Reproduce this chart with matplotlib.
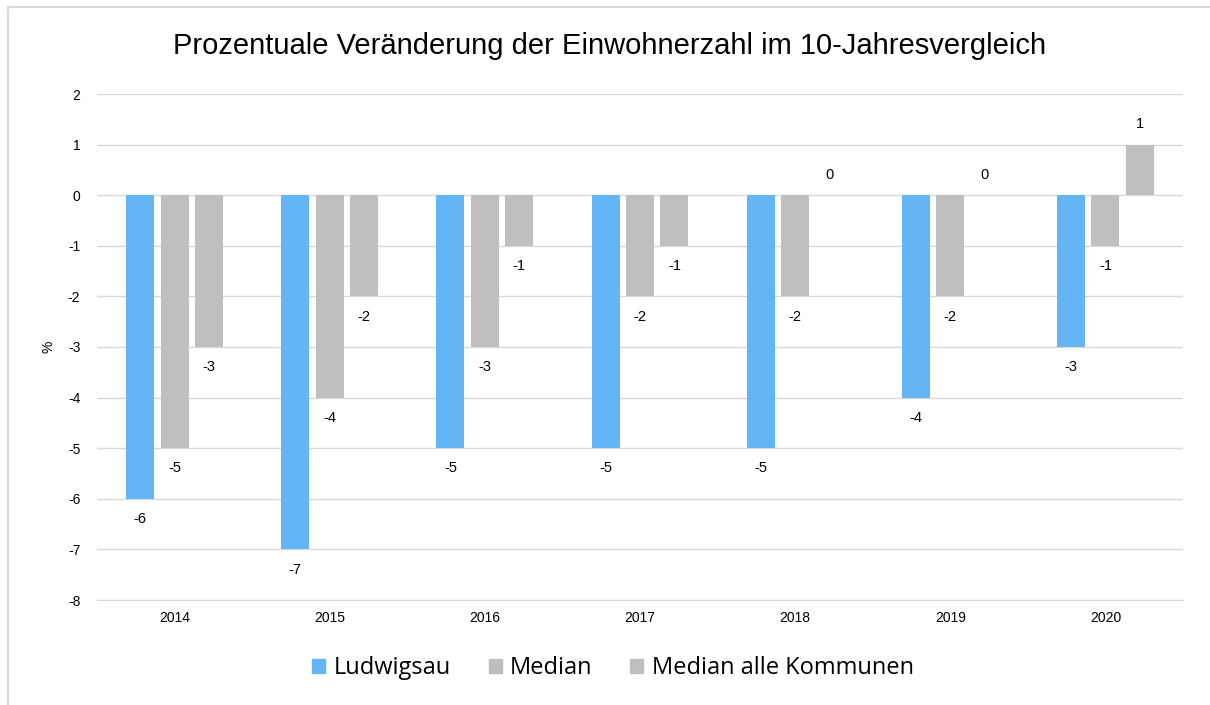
import matplotlib.pyplot as plt
from matplotlib.patches import Patch
from matplotlib.lines import Line2D
import numpy as np

# data
years = ['2014', '2015', '2016', '2017', '2018', '2019', '2020']
ludwigsau = [-6, -7, -5, -5, -5, -4, -3]
median = [-5, -4, -3, -2, -2, -2, -1]
median_alle = [-3, -2, -1, -1, 0, 0, 1]
series_names = ['Ludwigsau', 'Median', 'Median alle Kommunen']
colors = ['#63b5f6', '#bfbfbf', '#bfbfbf']

W, H = 1210, 705
plt.rcParams['font.family'] = ['Liberation Sans', 'DejaVu Sans']
plt.rcParams['axes.unicode_minus'] = False
fig = plt.figure(figsize=(W / 100, H / 100), dpi=100)

ax = fig.add_axes([97 / W, 1 - 600 / H, (1183 - 97) / W, (600 - 94) / H])

x = np.arange(len(years))
width = 0.18
step = 0.222
for i, (vals, col) in enumerate(zip([ludwigsau, median, median_alle], colors)):
    pos = x + (i - 1) * step
    ax.bar(pos, vals, width=width, color=col, zorder=2)
    for xp, v in zip(pos, vals):
        off = 14.5 if v >= 0 else -14.5
        ax.annotate(str(v), (xp, v), xytext=(0, off), textcoords='offset points',
                    ha='center', va='center', fontsize=10.5, color='#000000')

ax.set_xlim(-0.5, len(years) - 0.5)
ax.set_ylim(-8, 2)
ax.set_yticks(range(-8, 3))
ax.set_xticks(x)
ax.set_xticklabels(years)
ax.tick_params(axis='both', length=0, labelsize=10, colors='#000000')
ax.tick_params(axis='y', pad=12)
ax.tick_params(axis='x', pad=8)
ax.grid(axis='y', color='#d9d9d9', linewidth=1, zorder=0)
for s in ['top', 'right', 'left']:
    ax.spines[s].set_visible(False)
ax.spines['bottom'].set_color('#d9d9d9')
ax.set_ylabel('%', fontsize=10, labelpad=9)

fig.text(610 / W, 1 - 46 / H, 'Prozentuale Veränderung der Einwohnerzahl im 10-Jahresvergleich',
         ha='center', va='center', fontsize=21)

handles = [Patch(color=c) for c in colors]
fig.legend(handles, series_names, loc='center', bbox_to_anchor=(613 / W, 1 - 668 / H),
           ncol=3, frameon=False, prop={'family': 'Open Sans', 'size': 17},
           handlelength=0.55, handleheight=0.55, handletextpad=0.35, columnspacing=1.6)

# light frame on the left and top edge
fig.add_artist(Line2D([8 / W, 8 / W], [0, 1 - 7 / H], color='#d9d9d9', linewidth=1.5))
fig.add_artist(Line2D([8 / W, 1], [1 - 7 / H, 1 - 7 / H], color='#d9d9d9', linewidth=1.5))

fig.savefig('out.png', dpi=100)
